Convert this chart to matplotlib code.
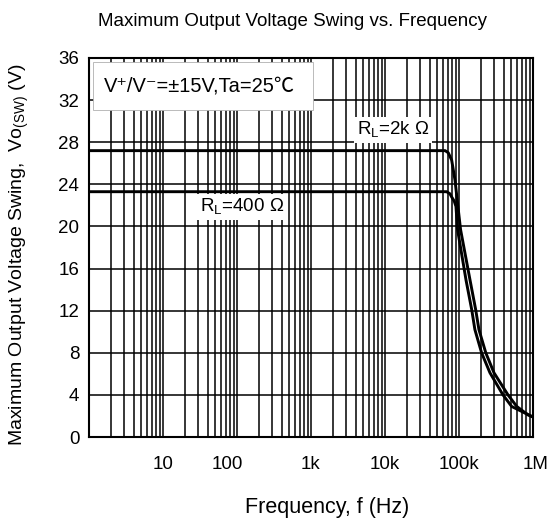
import matplotlib
matplotlib.use("Agg")
import matplotlib.pyplot as plt
from matplotlib.patches import Rectangle
from matplotlib.ticker import LogLocator, NullFormatter, NullLocator, FixedLocator
from matplotlib.transforms import ScaledTranslation

plt.rcParams['font.family'] = ['Liberation Sans', 'Noto Sans CJK JP', 'DejaVu Sans']
plt.rcParams['mathtext.fontset'] = 'custom'
plt.rcParams['mathtext.rm'] = 'Liberation Sans'

# ---- data ----
f_2k = [1, 65e3, 71.6e3, 79.6e3, 88.3e3, 97.8e3, 105e3, 141e3, 168e3, 186e3, 230e3, 297e3, 459e3, 604e3, 855e3, 1e6]
v_2k = [27.2, 27.2, 27.0, 26.3, 24.4, 21.6, 19.7, 14.9, 12.1, 10.2, 8.0, 6.1, 4.0, 2.9, 2.1, 1.9]

f_400 = [1, 58e3, 68e3, 75.5e3, 79.6e3, 86.3e3, 91e3, 95.6e3, 124.5e3, 148.5e3, 164e3, 202e3, 262e3, 393e3, 515e3, 1e6]
v_400 = [23.3, 23.3, 23.3, 23.1, 22.8, 22.4, 21.9, 19.7, 14.9, 12.1, 10.2, 8.0, 6.1, 4.0, 2.9, 1.9]

x_ticks = [10, 100, 1e3, 1e4, 1e5, 1e6]
x_ticklabels = ['10', '100', '1k', '10k', '100k', '1M']
y_ticks = [0, 4, 8, 12, 16, 20, 24, 28, 32, 36]

title = 'Maximum Output Voltage Swing vs. Frequency'
xlabel = 'Frequency, f (Hz)'
ylabel = r'Maximum Output Voltage Swing,  Vo$_{\mathregular{(SW)}}$ (V)'
cond_text = 'V\u207a/V\u207b=\u00b115V,Ta=25\u2103'
label_2k = r'R$_{\mathregular{L}}$=2k $\Omega$'
label_400 = r'R$_{\mathregular{L}}$=400 $\Omega$'

# ---- figure ----
fig = plt.figure(figsize=(5.49, 5.25), dpi=100)
ax = fig.add_axes([89/549, 1 - 437/525, 444/549, 379/525])

ax.set_xscale('log')
ax.set_xlim(1, 1e6)
ax.set_ylim(0, 36)

ax.xaxis.set_major_locator(FixedLocator(x_ticks))
ax.set_xticklabels(x_ticklabels)
ax.xaxis.set_minor_locator(LogLocator(base=10, subs=[2, 3, 4, 5, 6, 7, 8, 9], numticks=20))
ax.xaxis.set_minor_formatter(NullFormatter())
ax.set_yticks(y_ticks)
ax.yaxis.set_minor_locator(NullLocator())

ax.tick_params(which='both', length=0, labelsize=13.5)
ax.tick_params(axis='x', pad=14)
ax.tick_params(axis='y', pad=7)

ax.set_axisbelow(True)
ax.grid(which='both', axis='x', color='black', lw=1.1)
ax.grid(which='major', axis='y', color='black', lw=1.1)

for s in ax.spines.values():
    s.set_linewidth(1.5)
    s.set_color('black')

# small offsets of some tick labels as in reference
offsets = {1: -7, 5: 1.5}
for i, lab in enumerate(ax.get_xticklabels()):
    if i in offsets:
        lab.set_transform(lab.get_transform() + ScaledTranslation(offsets[i] / 72, 0, fig.dpi_scale_trans))

# curves
ax.plot(f_2k, v_2k, color='black', lw=2.1, zorder=4, solid_joinstyle='round')
ax.plot(f_400, v_400, color='black', lw=2.1, zorder=4, solid_joinstyle='round')

# condition box
ax.add_patch(Rectangle((0.009, 0.863), 0.495, 0.126, transform=ax.transAxes,
                       facecolor='white', edgecolor='#b0b0b0', lw=0.6, zorder=3))
ax.text(0.033, 0.926, cond_text, transform=ax.transAxes, fontsize=14.5,
        ha='left', va='center', zorder=5)

# curve labels
ax.text(0.685, 0.81, label_2k, transform=ax.transAxes, fontsize=13.5, ha='center', va='center',
        zorder=5, bbox=dict(facecolor='white', edgecolor='none', pad=2))
ax.text(0.345, 0.607, label_400, transform=ax.transAxes, fontsize=13.5, ha='center', va='center',
        zorder=5, bbox=dict(facecolor='white', edgecolor='none', pad=2))

fig.text(293/549, 1 - 22/525, title, ha='center', va='center', fontsize=13.5)
fig.text(327/549, 1 - 508/525, xlabel, ha='center', va='center', fontsize=15.5)
fig.text(19/549, 1 - 255/525, ylabel, ha='center', va='center', fontsize=14, rotation=90)

fig.savefig('out.png', dpi=100)
